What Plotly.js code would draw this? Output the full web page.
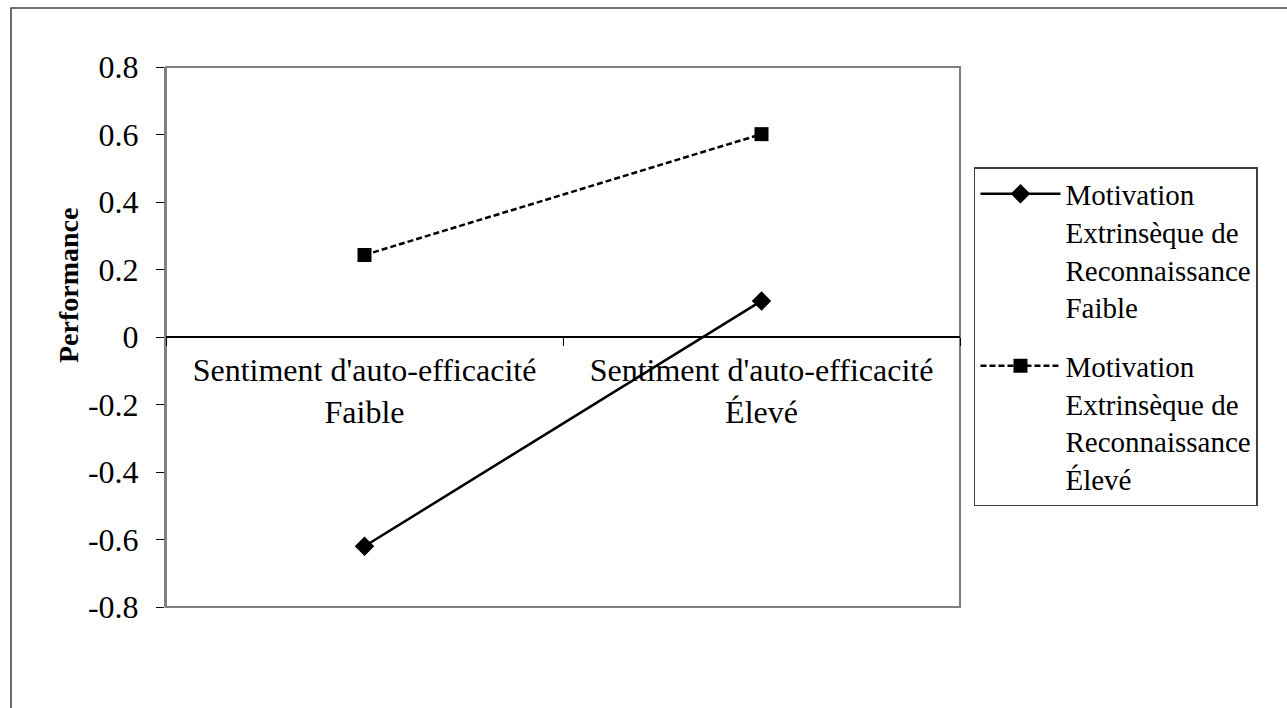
<!DOCTYPE html>
<html>
<head>
<meta charset="utf-8">
<script src="https://cdn.plot.ly/plotly-3.0.1.min.js"></script>
<style>html,body{margin:0;padding:0;background:#fff;}#chart{width:1287px;height:708px;}</style>
</head>
<body>
<div id="chart"></div>
<script>
const categories = ["Sentiment d'auto-efficacité<br>Faible", "Sentiment d'auto-efficacité<br>Élevé"];
const seriesNames = ["Motivation<br>Extrinsèque de<br>Reconnaissance<br>Faible", "Motivation<br>Extrinsèque de<br>Reconnaissance<br>Élevé"];
const lowRecognition = [-0.62, 0.107];
const highRecognition = [0.243, 0.601];
const yTickVals = [-0.8, -0.6, -0.4, -0.2, 0, 0.2, 0.4, 0.6, 0.8];
const yTickText = ["-0.8", "-0.6", "-0.4", "-0.2", "0", "0.2", "0.4", "0.6", "0.8"];
const yTitle = "Performance";

const serif = "Liberation Serif";

const traces = [
  {
    x: categories, y: lowRecognition, name: seriesNames[0], type: "scatter", mode: "lines+markers",
    legendgroup: "a",
    line: {color: "#000", width: 2.5},
    marker: {symbol: "diamond", size: 15, color: "#000"}
  },
  {
    x: categories, y: highRecognition, name: seriesNames[1], type: "scatter", mode: "lines+markers",
    legendgroup: "b",
    line: {color: "#000", width: 2.5, dash: "6px,3px"},
    marker: {symbol: "square", size: 14, color: "#000"}
  }
];

const layout = {
  width: 1287, height: 708,
  margin: {l: 166, r: 327, t: 67, b: 101},
  paper_bgcolor: "#fff", plot_bgcolor: "#fff",
  font: {family: serif, color: "#000"},
  showlegend: true,
  legend: {
    x: 1.0176, y: 0.8148, xanchor: "left", yanchor: "top",
    bordercolor: "#404040", borderwidth: 1.5, bgcolor: "#fff",
    font: {family: serif, size: 29, color: "#000"},
    traceorder: "grouped", tracegroupgap: 18, itemwidth: 80, valign: "top"
  },
  xaxis: {
    type: "category", range: [-0.5, 1.5],
    anchor: "free", position: 0.5,
    showline: false, showgrid: false, zeroline: false,
    ticks: "outside", tickson: "boundaries", ticklen: 8, tickcolor: "#000", tickwidth: 1,
    ticklabelstandoff: 11,
    tickfont: {family: serif, size: 32, color: "#000"},
    fixedrange: true
  },
  yaxis: {
    range: [-0.8, 0.8],
    tickvals: yTickVals, ticktext: yTickText,
    showline: true, linecolor: "#808080", linewidth: 2,
    showgrid: false,
    zeroline: true, zerolinecolor: "#000", zerolinewidth: 1.5,
    ticks: "outside", ticklen: 8, tickcolor: "#000", tickwidth: 1,
    ticklabelstandoff: 11,
    tickfont: {family: serif, size: 32, color: "#000"},
    fixedrange: true
  },
  annotations: [
    {text: "<b>" + yTitle + "</b>", xref: "paper", yref: "paper", x: -0.1234, y: 0.5944,
     textangle: -90, showarrow: false, xanchor: "center", yanchor: "middle",
     font: {family: serif, size: 28, color: "#000"}}
  ],
  shapes: [
    {type: "rect", xref: "paper", yref: "paper", x0: 0, x1: 1, y0: 0, y1: 1,
     line: {color: "#808080", width: 2}, layer: "below"},
    {type: "rect", xref: "paper", yref: "paper", x0: -0.1952, x1: 1.6, y0: -0.5, y1: 1.1093,
     line: {color: "#404040", width: 1.5}, layer: "below"}
  ]
};

Plotly.newPlot("chart", traces, layout, {displayModeBar: false, staticPlot: true});
</script>
</body>
</html>
